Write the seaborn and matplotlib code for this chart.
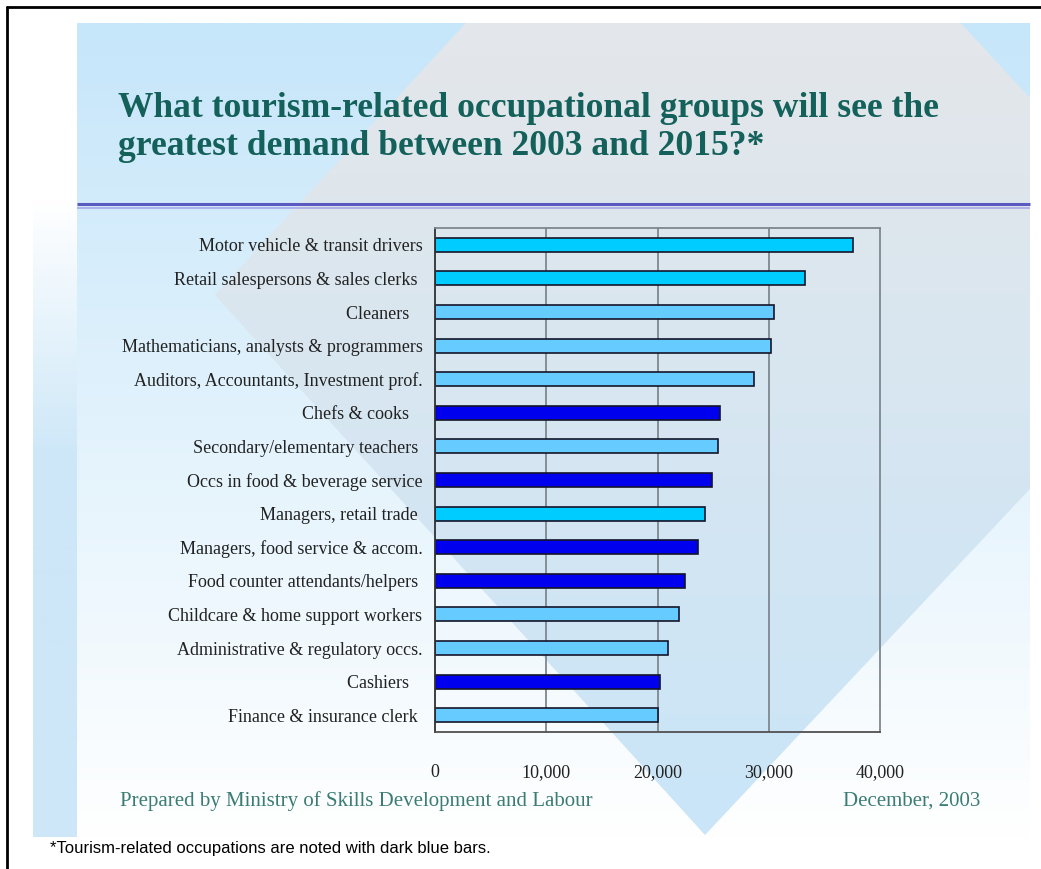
import numpy as np
import pandas as pd
import matplotlib
matplotlib.use("Agg")
import matplotlib.pyplot as plt
from matplotlib.patches import Polygon, Rectangle
from matplotlib.colors import to_rgb
import seaborn as sns

# ---- data -------------------------------------------------------------
occupations = [
    "Motor vehicle & transit drivers",
    "Retail salespersons & sales clerks ",
    "Cleaners   ",
    "Mathematicians, analysts & programmers",
    "Auditors, Accountants, Investment prof.",
    "Chefs & cooks   ",
    "Secondary/elementary teachers ",
    "Occs in food & beverage service",
    "Managers, retail trade ",
    "Managers, food service & accom.",
    "Food counter attendants/helpers ",
    "Childcare & home support workers",
    "Administrative & regulatory occs.",
    "Cashiers   ",
    "Finance & insurance clerk ",
]
demand = [37600, 33300, 30500, 30200, 28700, 25600, 25400, 24900,
          24300, 23600, 22500, 21900, 20900, 20200, 20000]
group = ["retail", "retail", "other", "other", "other", "tourism", "other",
         "tourism", "retail", "tourism", "tourism", "other", "other",
         "tourism", "other"]
group_colors = {"retail": "#00CCFF", "other": "#66CCFF", "tourism": "#0000EE"}

x_ticks = [0, 10000, 20000, 30000, 40000]

title = ("What tourism-related occupational groups will see the\n"
         "greatest demand between 2003 and 2015?*")
credit_left = "Prepared by Ministry of Skills Development and Labour"
credit_right = "December, 2003"
footnote = "*Tourism-related occupations are noted with dark blue bars."

df = pd.DataFrame({"occupation": occupations, "demand": demand, "group": group})

# ---- figure -----------------------------------------------------------
W, H = 1041, 869
sns.set_theme(style="white")
plt.rcParams["font.family"] = ["Liberation Serif", "DejaVu Serif"]
fig = plt.figure(figsize=(W / 100, H / 100), dpi=100)
fig.patch.set_facecolor("white")

# background layer in pixel coordinates
bg = fig.add_axes([0, 0, 1, 1], zorder=-10)
bg.set_xlim(0, W)
bg.set_ylim(H, 0)
bg.axis("off")


def vgradient(ax, x0, x1, y0, y1, c_top, c_bot, clip=None, n=256):
    top, bot = np.array(to_rgb(c_top)), np.array(to_rgb(c_bot))
    t = np.linspace(0, 1, n)[:, None, None]
    img = top * (1 - t) + bot * t
    im = ax.imshow(img, extent=[x0, x1, y1, y0], aspect="auto",
                   interpolation="bilinear", zorder=0)
    if clip is not None:
        ax.add_patch(clip)
        clip.set_visible(False)
        im.set_clip_path(clip)
    return im


panel = (77, 1030, 23, 840)
# slide panel: light blue fading to white
vgradient(bg, panel[0], panel[1], panel[2], panel[3], "#C6E6FA", "#FFFFFF",
          clip=Rectangle((panel[0], panel[2]), panel[1] - panel[0],
                         panel[3] - panel[2], transform=bg.transData))
# large diamond: grey at the top turning light blue at the bottom
diamond = [(713, -245), (1212, 295), (705, 835), (215, 295)]
vgradient(bg, panel[0], panel[1], panel[2], 835, "#E4E7EA", "#C9E5F8",
          clip=Polygon(diamond, closed=True, transform=bg.transData))
# left strip
vgradient(bg, 33, 77, 200, 460, "#FFFFFF", "#CDE7F8")
vgradient(bg, 33, 77, 459, 837, "#CDE7F8", "#CDE7F8")

# divider under the title
bg.plot([77, 1030], [204, 204], color="#5A5AC0", lw=2.2, solid_capstyle="butt")
bg.plot([77, 1030], [207.5, 207.5], color="#A8A8E8", lw=1.2, solid_capstyle="butt")

# outer frame lines
bg.plot([7, W], [7, 7], color="black", lw=2)
bg.plot([7, 7], [7, H], color="black", lw=2)

# ---- chart ------------------------------------------------------------
ax_l, ax_r, ax_t, ax_b = 435, 880, 228, 732
ax = fig.add_axes([ax_l / W, 1 - ax_b / H, (ax_r - ax_l) / W, (ax_b - ax_t) / H])
ax.set_facecolor("none")

sns.barplot(data=df, x="demand", y="occupation", hue="group",
            palette=group_colors, dodge=False, orient="h", width=0.42,
            edgecolor="#15152A", linewidth=1.2, legend=False, ax=ax,
            saturation=1)

ax.set_xlim(0, 40000)
ax.set_ylim(len(occupations) - 0.5, -0.5)
ax.set_xlabel("")
ax.set_ylabel("")
ax.set_xticks(x_ticks)
ax.set_xticklabels([f"{v:,}" for v in x_ticks])
for v in x_ticks[1:-1]:
    ax.axvline(v, color="#7E8790", lw=1.3, zorder=0)

for side in ["top", "right"]:
    ax.spines[side].set_color("#7E8790")
    ax.spines[side].set_linewidth(1.3)
ax.spines["left"].set_color("#303030")
ax.spines["left"].set_linewidth(1.3)
ax.spines["bottom"].set_color("#505050")
ax.spines["bottom"].set_linewidth(1.3)

ax.tick_params(axis="y", which="major", length=0, pad=9,
               labelsize=13, labelcolor="#222222")
ax.set_yticks(np.arange(-0.5, len(occupations), 1.0), minor=True)
ax.tick_params(axis="y", which="minor", length=4, width=1.2,
               color="#222222", direction="out")
ax.tick_params(axis="x", which="major", length=5, width=1.2,
               color="#505050", direction="out", pad=18,
               labelsize=13, labelcolor="#222222")

# ---- text -------------------------------------------------------------
teal = "#14605A"
fig.text(118 / W, 1 - 92 / H, title, ha="left", va="top", fontsize=25.6,
         fontweight="bold", color=teal, linespacing=1.2)
fig.text(120 / W, 1 - 801 / H, credit_left, ha="left", va="center",
         fontsize=15, color="#3B7C74")
fig.text(980 / W, 1 - 801 / H, credit_right, ha="right", va="center",
         fontsize=15, color="#3B7C74")
fig.text(50 / W, 1 - 848 / H, footnote, ha="left", va="center",
         fontsize=12, color="black", family=["Liberation Sans", "DejaVu Sans"])

fig.savefig("out.png", dpi=100, facecolor="white")
